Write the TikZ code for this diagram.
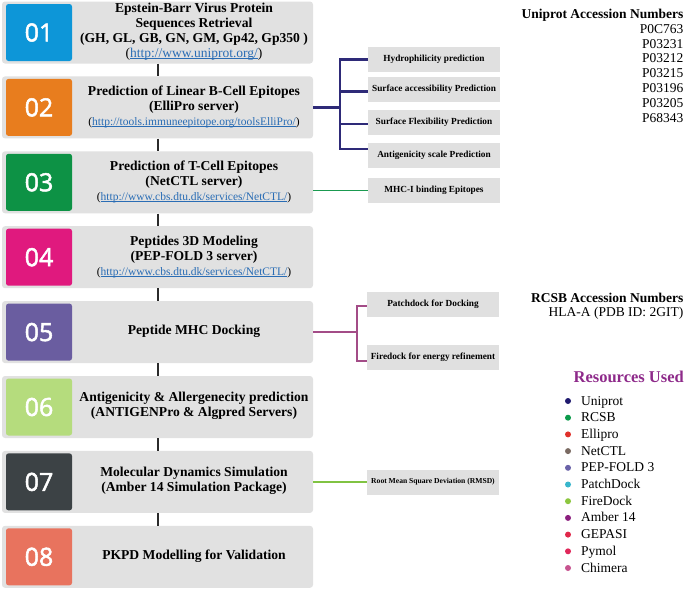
\documentclass[tikz,border=0pt]{standalone}
\usepackage{fontspec}
\setmainfont{Liberation Serif}
\newfontfamily\numfont[FakeBold=2]{Open Sans}
\usetikzlibrary{calc}
\definecolor{boxgray}{HTML}{E1E1E1}
\definecolor{subgray}{HTML}{E0E0E0}
\definecolor{connblack}{HTML}{2B2B2B}
\definecolor{urlblue}{HTML}{2A6DB5}
\definecolor{cA}{HTML}{0D96D8}
\definecolor{cB}{HTML}{E87D1E}
\definecolor{cC}{HTML}{0D9245}
\definecolor{cD}{HTML}{E0197E}
\definecolor{cE}{HTML}{6A5DA0}
\definecolor{cF}{HTML}{B5DC7D}
\definecolor{cG}{HTML}{3C4245}
\definecolor{cH}{HTML}{E8735E}
\definecolor{navyline}{HTML}{2E2A78}
\definecolor{greenline}{HTML}{1A9A50}
\definecolor{purpline}{HTML}{A34C87}
\definecolor{limeline}{HTML}{80C342}
\definecolor{respurple}{HTML}{8E2A8A}
\definecolor{dUni}{HTML}{1F1A6E}
\definecolor{dRcsb}{HTML}{0B9A4A}
\definecolor{dEll}{HTML}{E0312B}
\definecolor{dNet}{HTML}{7A6A62}
\definecolor{dPep}{HTML}{6A62A8}
\definecolor{dPatch}{HTML}{38B6CC}
\definecolor{dFire}{HTML}{8CC63F}
\definecolor{dAmb}{HTML}{8B1F7E}
\definecolor{dGep}{HTML}{E0284A}
\definecolor{dPym}{HTML}{E0285A}
\definecolor{dChi}{HTML}{C7538F}
\newcommand{\myul}[1]{\setbox0\hbox{#1}\rlap{\rule[-1.4pt]{\wd0}{0.5pt}}\box0}
\newcommand{\lnk}[2][11.5]{{\mdseries\fontsize{#1}{15}\selectfont(\textcolor{urlblue}{\myul{#2}})}}
\begin{document}
\begin{tikzpicture}[x=1pt,y=-1pt,
  mainbox/.style={fill=boxgray, rounded corners=3pt, minimum width=311pt, minimum height=62pt, inner sep=0pt},
  numbox/.style={fill=#1, rounded corners=2.5pt, minimum width=66pt, minimum height=57pt, text=white, font=\numfont\fontsize{25}{25}\selectfont, inner sep=0pt},
  maintext/.style={align=center, font=\bfseries\fontsize{13.6}{15}\selectfont, inner sep=0pt},
  subbox/.style={fill=subgray, minimum width=132pt, minimum height=25pt, font=\bfseries\fontsize{9.3}{10}\selectfont, inner sep=0pt},
  vconn/.style={line width=2pt, draw=connblack},
  legtext/.style={anchor=base west, font=\fontsize{13.5}{14}\selectfont, inner sep=0pt},
  rtext/.style={anchor=base east, font=\fontsize{13.5}{14}\selectfont, inner sep=0pt},
  rhead/.style={anchor=base east, font=\bfseries\fontsize{13.5}{14}\selectfont, inner sep=0pt},
  dot/.style={circle, fill=#1, minimum size=6pt, inner sep=0pt}
]
\useasboundingbox (0,0) rectangle (685,590);

% main boxes
\node[mainbox] (b1) at (157.5,32.5) {};
\node[mainbox] (b2) at (157.5,107.4) {};
\node[mainbox] (b3) at (157.5,182.3) {};
\node[mainbox] (b4) at (157.5,257.2) {};
\node[mainbox] (b5) at (157.5,332.1) {};
\node[mainbox] (b6) at (157.5,407.0) {};
\node[mainbox] (b7) at (157.5,481.9) {};
\node[mainbox] (b8) at (157.5,556.8) {};

% vertical connectors
\draw[vconn] (b1.south) -- (b2.north);
\draw[vconn] (b2.south) -- (b3.north);
\draw[vconn] (b3.south) -- (b4.north);
\draw[vconn] (b4.south) -- (b5.north);
\draw[vconn] (b5.south) -- (b6.north);
\draw[vconn] (b6.south) -- (b7.north);
\draw[vconn] (b7.south) -- (b8.north);

% number squares
\node[numbox=cA] (n1) at (39,32.5) {01};
\node[numbox=cB] (n2) at (39,107.4) {02};
\node[numbox=cC] (n3) at (39,182.3) {03};
\node[numbox=cD] (n4) at (39,257.2) {04};
\node[numbox=cE] (n5) at (39,332.1) {05};
\node[numbox=cF] (n6) at (39,407.0) {06};
\node[numbox=cG] (n7) at (39,481.9) {07};
\node[numbox=cH] (n8) at (39,556.8) {08};

% main texts
\node[maintext] (t1) at (194,31.5) {Epstein-Barr Virus Protein\\Sequences Retrieval\\(GH, GL, GB, GN, GM, Gp42, Gp350 )\\\lnk[13.5]{http://www.uniprot.org/}};
\node[maintext] (t2) at (194,106.5) {Prediction of Linear B-Cell Epitopes\\(ElliPro server)\\\lnk{http://tools.immuneepitope.org/toolsElliPro/}};
\node[maintext] (t3) at (194,182) {Prediction of T-Cell Epitopes\\(NetCTL server)\\\lnk{http://www.cbs.dtu.dk/services/NetCTL/}};
\node[maintext] (t4) at (194,257) {Peptides 3D Modeling\\(PEP-FOLD 3 server)\\\lnk{http://www.cbs.dtu.dk/services/NetCTL/}};
\node[maintext] (t5) at (194,331.5) {Peptide MHC Docking};
\node[maintext] (t6) at (194,406) {Antigenicity \& Allergenecity prediction\\(ANTIGENPro \& Algpred Servers)};
\node[maintext] (t7) at (194,481) {Molecular Dynamics Simulation\\(Amber 14 Simulation Package)};
\node[maintext] (t8) at (194,556.5) {PKPD Modelling for Validation};

% sub boxes
\node[subbox] (hyd) at (434,59.5) {Hydrophilicity prediction};
\node[subbox] (acc) at (434,89) {Surface accessibility Prediction};
\node[subbox] (flex) at (434,122.5) {Surface Flexibility Prediction};
\node[subbox] (ant) at (434,155) {Antigenicity scale Prediction};
\node[subbox] (mhc) at (434,190.5) {MHC-I binding Epitopes};
\node[subbox] (patch) at (433,304) {Patchdock for Docking};
\node[subbox] (fire) at (433,357.5) {Firedock for energy refinement};
\node[subbox, font=\bfseries\fontsize{7.6}{9}\selectfont] (rmsd) at (433,482) {Root Mean Square Deviation (RMSD)};

% navy branch
\coordinate (j2) at (340,107.4);
\coordinate (accin) at ([yshift=-2.5pt]acc.west);
\coordinate (flexin) at ([yshift=-1.5pt]flex.west);
\coordinate (antin) at ([yshift=6pt]ant.west);
\draw[navyline, line width=2.3pt] (b2.east) -- (j2);
\draw[navyline, line width=2.3pt] (hyd.west) -- (hyd.west -| j2) -- (antin -| j2) -- (antin);
\draw[navyline, line width=2.3pt] (accin -| j2) -- (accin);
\draw[navyline, line width=2.3pt] (flexin -| j2) -- (flexin);

% green
\draw[greenline, line width=1.8pt] (b3.east |- mhc.west) -- (mhc.west);

% purple branch
\coordinate (j5) at (357,332.1);
\coordinate (patchin) at ([yshift=-2pt]patch.west);
\coordinate (firein) at ([yshift=-3.5pt]fire.west);
\draw[purpline, line width=2.2pt] (b5.east) -- (j5);
\draw[purpline, line width=2.2pt] (patchin) -- (patchin -| j5) -- (firein -| j5) -- (firein);

% lime
\draw[limeline, line width=1.8pt] (b7.east |- rmsd.west) -- (rmsd.west);

% right texts
\node[rhead] (uh) at (683.5,18.5) {Uniprot Accession Numbers};
\node[rtext] (u1) at (683.5,33.3) {P0C763};
\node[rtext] (u2) at (683.5,48.1) {P03231};
\node[rtext] (u3) at (683.5,62.9) {P03212};
\node[rtext] (u4) at (683.5,77.7) {P03215};
\node[rtext] (u5) at (683.5,92.5) {P03196};
\node[rtext] (u6) at (683.5,107.3) {P03205};
\node[rtext] (u7) at (683.5,122.1) {P68343};

\node[rhead] (rh) at (683.5,302) {RCSB Accession Numbers};
\node[rtext] (r1) at (683.5,316.5) {HLA-A (PDB ID: 2GIT)};

\node[anchor=base east, inner sep=0pt, text=respurple, font=\bfseries\fontsize{16.5}{18}\selectfont] (res) at (684,382) {Resources Used};

\node[dot=dUni] (d1) at (568,401) {};
\node[dot=dRcsb] (d2) at (568,417.7) {};
\node[dot=dEll] (d3) at (568,434.4) {};
\node[dot=dNet] (d4) at (568,451.1) {};
\node[dot=dPep] (d5) at (568,467.8) {};
\node[dot=dPatch] (d6) at (568,484.5) {};
\node[dot=dFire] (d7) at (568,501.2) {};
\node[dot=dAmb] (d8) at (568,517.9) {};
\node[dot=dGep] (d9) at (568,534.6) {};
\node[dot=dPym] (d10) at (568,551.3) {};
\node[dot=dChi] (d11) at (568,568) {};
\node[legtext] (l1) at (581,405) {Uniprot};
\node[legtext] (l2) at (581,421.7) {RCSB};
\node[legtext] (l3) at (581,438.4) {Ellipro};
\node[legtext] (l4) at (581,455.1) {NetCTL};
\node[legtext] (l5) at (581,471.8) {PEP-FOLD 3};
\node[legtext] (l6) at (581,488.5) {PatchDock};
\node[legtext] (l7) at (581,505.2) {FireDock};
\node[legtext] (l8) at (581,521.9) {Amber 14};
\node[legtext] (l9) at (581,538.6) {GEPASI};
\node[legtext] (l10) at (581,555.3) {Pymol};
\node[legtext] (l11) at (581,572) {Chimera};
\end{tikzpicture}
\end{document}
